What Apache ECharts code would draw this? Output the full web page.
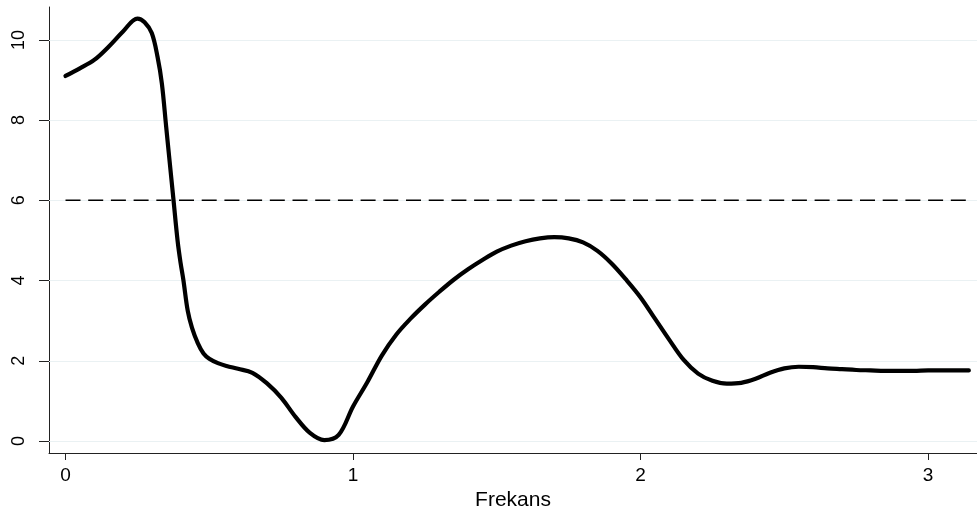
<!DOCTYPE html>
<html>
<head>
<meta charset="utf-8">
<script src="https://cdn.jsdelivr.net/npm/echarts@6/dist/echarts.min.js"></script>
<style>html,body{margin:0;padding:0;background:#fff}#c{width:977px;height:509px}</style>
</head>
<body>
<div id="c"></div>
<script>
const freq = [0, 0.05, 0.1, 0.15, 0.2, 0.25, 0.275, 0.3, 0.32, 0.335, 0.35, 0.36, 0.375, 0.39, 0.4, 0.41, 0.425, 0.44, 0.46, 0.48, 0.5, 0.53, 0.56, 0.6, 0.65, 0.7, 0.75, 0.8, 0.85, 0.9, 0.95, 1.0, 1.05, 1.1, 1.15, 1.2, 1.25, 1.3, 1.35, 1.4, 1.45, 1.5, 1.55, 1.6, 1.65, 1.7, 1.75, 1.8, 1.85, 1.9, 1.95, 2.0, 2.05, 2.1, 2.15, 2.2, 2.25, 2.3, 2.35, 2.4, 2.45, 2.5, 2.55, 2.6, 2.65, 2.7, 2.75, 2.8, 2.85, 2.9, 2.95, 3.0, 3.05, 3.1, 3.1416];
const power = [9.10, 9.29, 9.50, 9.83, 10.21, 10.53, 10.44, 10.17, 9.58, 8.92, 7.84, 7.12, 6.05, 4.98, 4.45, 4.01, 3.25, 2.82, 2.44, 2.18, 2.05, 1.94, 1.87, 1.80, 1.70, 1.44, 1.08, 0.60, 0.20, 0.02, 0.15, 0.86, 1.47, 2.13, 2.65, 3.05, 3.40, 3.72, 4.02, 4.28, 4.51, 4.72, 4.87, 4.98, 5.05, 5.08, 5.05, 4.95, 4.74, 4.42, 4.02, 3.58, 3.05, 2.52, 2.02, 1.68, 1.50, 1.43, 1.45, 1.55, 1.70, 1.81, 1.85, 1.84, 1.81, 1.79, 1.77, 1.76, 1.75, 1.75, 1.75, 1.76, 1.76, 1.76, 1.76];
const threshold = 6;
const xTicks = [0, 1, 2, 3];
const yTicks = [0, 2, 4, 6, 8, 10];
const xName = 'Frekans';

const chart = echarts.init(document.getElementById('c'));
const font = 'Liberation Sans, Arial, Helvetica, sans-serif';
chart.setOption({
  animation: false,
  backgroundColor: '#fff',
  grid: {left: 49, right: 0, top: 7, bottom: 56, outerBoundsMode: 'none', containLabel: false},
  xAxis: {
    type: 'value', min: -0.0574, max: 3.17,
    name: xName, nameLocation: 'middle', nameGap: 31,
    nameTextStyle: {fontFamily: font, fontSize: 21, color: '#000'},
    axisLine: {onZero: false, lineStyle: {color: '#222', width: 1}},
    axisTick: {customValues: xTicks, length: 7, lineStyle: {color: '#222'}},
    axisLabel: {customValues: xTicks, margin: 13, fontFamily: font, fontSize: 19, color: '#000'},
    splitLine: {show: false}
  },
  yAxis: {
    type: 'value', min: -0.3, max: 10.82,
    axisLine: {show: true, onZero: false, lineStyle: {color: '#222', width: 1}},
    axisTick: {show: true, customValues: yTicks, length: 10, lineStyle: {color: '#222'}},
    axisLabel: {customValues: yTicks, rotate: 90, margin: 21, fontFamily: font, fontSize: 18, color: '#000'},
    splitLine: {show: false}
  },
  series: [
    {
      type: 'line', silent: true, symbol: 'none', data: [], z: 1,
      markLine: {
        silent: true, symbol: 'none', label: {show: false}, z: 1,
        lineStyle: {color: '#eaf1f3', width: 1.2, type: 'solid'},
        data: yTicks.map(v => ({yAxis: v}))
      }
    },
    {
      type: 'line', symbol: 'none', silent: true, z: 5,
      data: [[freq[0], threshold], [freq[freq.length - 1], threshold]],
      lineStyle: {color: '#000', width: 1.6, type: [15, 7.7]}
    },
    {
      type: 'line', symbol: 'none', smooth: 0.35, silent: true, z: 6,
      data: freq.map((f, i) => [f, power[i]]),
      lineStyle: {color: '#000', width: 4.2, cap: 'round', join: 'round'}
    }
  ]
});
</script>
</body>
</html>
